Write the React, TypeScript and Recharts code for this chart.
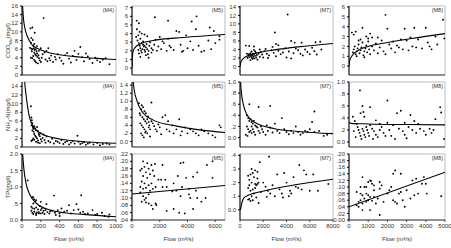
import React from 'react';
import { ComposedChart, Scatter, XAxis, YAxis, ReferenceArea } from 'recharts';

type P = [number, number];

// ---------- tick labels ----------
const flowTicksM4 = [0, 200, 400, 600, 800, 1000];
const flowTicksM5 = [0, 2000, 4000, 6000];
const flowTicksM7 = [0, 2000, 4000, 6000, 8000];
const flowTicksM8 = [0, 1000, 2000, 3000, 4000, 5000];

const codTicksM4 = [0, 2, 4, 6, 8, 10, 12, 14, 16];
const codTicksM5 = [0, 1, 2, 3, 4, 5, 6, 7];
const codTicksM7 = [0, 2, 4, 6, 8, 10, 12, 14];
const codTicksM8 = [0, 1, 2, 3, 4, 5, 6];
const nhTicksM4 = [0, 2, 4, 6, 8, 10, 12, 14];
const nhTicksM5 = [0, 0.2, 0.4, 0.6, 0.8, 1.0, 1.2, 1.4];
const nhTicksM7 = [0, 0.2, 0.4, 0.6, 0.8, 1.0];
const nhTicksM8 = [0, 0.2, 0.4, 0.6, 0.8, 1.0];
const tpTicksM4 = [0, 0.5, 1.0, 1.5, 2.0];
const tpTicksM5 = [0.04, 0.06, 0.08, 0.1, 0.12, 0.14, 0.16, 0.18, 0.2, 0.22];
const tpTicksM7 = [0, 0.1, 0.2, 0.3, 0.4];
const tpTicksM8 = [0, 0.02, 0.04, 0.06, 0.08, 0.1, 0.12, 0.14, 0.16, 0.18, 0.2];

// ---------- COD ----------
const codM4Pts: P[] = [[90,10.8],[110,11],[135,9.8],[230,13.2],[100,8.6],[115,8.1],[95,7.5],[120,6.8],[85,6.3],[100,6.1],[110,6.0],[125,6.2],[135,5.8],[145,6.0],[155,5.5],[160,5.0],[105,5.5],[130,5.2],[140,4.8],[150,4.5],[165,4.2],[175,4.6],[180,3.9],[120,4.4],[110,3.9],[95,4.0],[130,3.5],[140,3.2],[150,2.9],[170,2.7],[190,3.4],[200,3.0],[210,4.0],[220,4.8],[240,5.2],[260,5.6],[280,6.2],[250,3.6],[270,3.2],[290,3.9],[300,3.4],[310,4.5],[330,3.0],[350,4.2],[360,3.6],[380,4.8],[400,4.0],[420,3.3],[440,2.6],[460,4.6],[480,5.1],[500,3.8],[520,2.9],[540,4.4],[560,5.6],[580,3.5],[600,4.9],[620,6.5],[640,4.1],[660,3.2],[680,5.0],[700,4.3],[720,3.7],[750,2.8],[780,4.0],[800,3.4],[830,3.0],[860,3.6],[890,3.9],[930,2.5],[200,6.2],[180,5.6],[160,6.7],[130,7.2]];
const codM4Fit: P[] = [[6,16],[10,14.8],[15,13.2],[25,11.5],[40,10],[60,8.8],[100,7.2],[150,6.3],[200,5.8],[300,5.1],[400,4.7],[500,4.4],[600,4.2],[700,4.0],[800,3.85],[900,3.7],[1000,3.6]];

const codM5Pts: P[] = [[340,5.5],[500,5.2],[1650,5.9],[2600,5.5],[4650,6.0],[4300,5.4],[350,4.5],[550,4.2],[700,4.0],[450,3.8],[300,3.6],[900,3.9],[1100,3.7],[600,3.4],[400,3.2],[500,2.9],[550,2.6],[600,2.3],[650,2.0],[700,1.8],[750,2.2],[800,2.7],[850,2.5],[900,2.1],[950,1.9],[1000,2.4],[1050,2.8],[1100,2.2],[1150,1.6],[1200,2.0],[1250,2.6],[1300,3.0],[1400,2.3],[450,2.1],[500,1.7],[600,1.3],[700,2.9],[800,3.1],[900,2.6],[1000,1.5],[1500,2.1],[1600,2.7],[1700,3.3],[1800,2.0],[1900,2.5],[2000,3.6],[2100,2.2],[2300,2.9],[2500,2.0],[2600,3.4],[2800,2.4],[3000,2.1],[3200,4.3],[3400,4.2],[3500,2.7],[3700,2.0],[3900,3.8],[4000,2.3],[4200,3.1],[4400,2.1],[4600,4.5],[4800,2.6],[5000,1.9],[5200,2.0],[5500,3.2],[5600,4.7],[5900,4.3],[6300,3.7],[6300,3.3],[6000,2.9],[5700,2.2],[3600,1.9],[2700,2.6],[2200,3.1],[1400,1.8],[1200,1.2]];
const codM5Fit: P[] = [[3,0],[10,0.6],[20,1.0],[40,1.5],[95,2.0],[200,2.35],[580,2.8],[1500,3.2],[3700,3.55],[6700,3.9]];

const codM7Pts: P[] = [[4100,12.2],[3000,8.0],[500,4.9],[800,4.8],[1200,4.7],[3100,5.3],[3300,5.0],[4400,6.0],[4700,5.6],[5300,5.6],[6500,5.7],[6900,5.8],[600,3.0],[700,2.5],[750,2.9],[800,2.2],[850,2.7],[900,3.1],[950,2.4],[1000,2.0],[1050,2.6],[1100,3.0],[1150,2.3],[1200,2.8],[1250,1.9],[1300,2.5],[1350,3.3],[1400,2.1],[1450,2.7],[1500,1.6],[650,2.0],[900,1.5],[1000,3.5],[1100,1.8],[1300,3.6],[1600,3.0],[1700,2.3],[1800,3.4],[1900,2.8],[2000,2.1],[2100,3.6],[2300,3.0],[2500,2.6],[2700,3.8],[2900,3.2],[3100,2.4],[3300,3.7],[3500,2.9],[3700,3.3],[3900,4.3],[4000,2.1],[4200,3.5],[4400,1.9],[4600,3.1],[4800,4.2],[5000,3.8],[5200,3.0],[5400,2.6],[5600,4.0],[5800,3.4],[6000,2.9],[6200,4.4],[6400,3.6],[7000,4.0],[6600,2.8],[2200,4.1],[1700,4.0],[1200,3.9],[2400,2.0],[2800,4.6]];
const codM7Fit: P[] = [[10,0],[50,0.8],[150,1.4],[300,1.9],[860,2.7],[1500,3.2],[3000,3.9],[5000,4.6],[8000,5.4]];

const codM8Pts: P[] = [[1900,5.2],[4900,4.7],[4970,2.8],[150,3.4],[250,3.2],[350,3.5],[700,3.9],[1100,3.3],[2000,3.8],[2900,3.8],[3400,3.9],[4000,3.9],[3200,2.9],[2700,2.7],[200,1.4],[250,1.7],[300,2.0],[350,1.2],[400,1.5],[450,1.8],[500,2.2],[550,1.3],[600,1.6],[650,1.9],[700,2.4],[750,1.1],[800,1.5],[850,1.8],[900,2.1],[950,1.4],[1000,2.5],[1050,1.7],[1100,1.2],[1200,2.0],[1300,1.6],[1400,2.3],[1500,1.3],[1600,1.9],[1700,2.6],[1800,1.5],[1900,1.2],[2100,2.2],[2200,1.8],[2300,2.5],[2400,1.4],[2500,2.1],[2600,1.9],[2800,1.7],[3000,2.6],[3100,1.6],[3300,2.0],[3500,1.9],[3600,2.7],[3800,1.8],[4100,2.4],[4200,2.0],[4300,1.7],[4500,3.0],[4600,2.2],[1000,2.8],[1200,2.9],[500,2.6],[600,2.7],[900,3.0],[1500,2.9],[400,1.0],[800,0.9]];
const codM8Fit: P[] = [[5,0],[30,0.5],[140,1.0],[485,1.6],[1000,2.0],[1875,2.35],[3265,2.8],[5000,3.3]];

// ---------- NH3-N ----------
const nhM4Pts: P[] = [[95,9.4],[100,6.8],[105,6.2],[110,5.5],[100,5.0],[115,4.6],[120,4.2],[110,3.8],[125,3.5],[130,4.8],[140,4.3],[150,3.9],[160,4.6],[170,3.7],[180,3.0],[130,3.0],[140,2.6],[150,2.3],[120,2.0],[110,1.6],[100,1.4],[130,1.7],[160,2.0],[170,1.5],[190,2.5],[200,1.8],[210,1.3],[220,2.1],[240,1.6],[250,1.0],[260,2.4],[280,1.4],[300,1.1],[320,1.9],[340,0.8],[360,1.4],[380,1.2],[400,0.9],[420,1.6],[440,0.7],[460,1.1],[480,1.3],[500,0.6],[520,1.0],[540,1.4],[560,0.8],[590,2.6],[600,1.2],[620,0.7],[640,0.9],[660,1.1],[680,0.5],[700,0.8],[720,1.0],[760,0.6],[800,0.9],[830,0.4],[860,0.7],[900,0.8],[930,0.6],[170,1.0],[180,2.8],[200,3.2],[230,2.9],[150,1.2],[190,0.9]];
const nhM4Fit: P[] = [[28,15],[35,13.5],[50,10.8],[78,7.0],[120,4.7],[227,2.8],[475,1.6],[700,1.15],[1000,0.85]];

const nhM5Pts: P[] = [[500,0.95],[1400,0.97],[700,0.9],[800,0.85],[650,0.8],[900,0.75],[1000,0.7],[550,0.7],[600,0.65],[750,0.6],[850,0.55],[950,0.5],[1050,0.45],[1150,0.62],[1250,0.4],[600,0.45],[700,0.4],[800,0.35],[900,0.3],[1000,0.25],[1100,0.2],[1200,0.35],[1300,0.3],[1400,0.5],[1500,0.45],[1600,0.38],[1700,0.3],[1800,0.25],[1900,0.42],[2000,0.35],[650,0.2],[750,0.15],[850,0.1],[950,0.22],[1300,0.12],[2200,0.6],[2400,0.65],[2500,0.3],[2700,0.25],[2900,0.4],[3000,0.2],[3200,0.3],[3400,0.55],[3600,0.25],[3800,0.35],[4000,0.2],[4200,0.3],[4400,0.25],[4600,0.2],[4800,0.15],[5000,0.3],[5200,0.25],[5500,0.2],[5800,0.15],[6000,0.1],[6300,0.4],[6400,0.35],[2100,0.18],[2600,0.5],[3500,0.15],[1100,0.55],[1200,0.48]];
const nhM5Fit: P[] = [[90,1.48],[150,1.3],[338,1.03],[815,0.7],[1535,0.53],[3220,0.38],[5000,0.28],[6700,0.22]];

const nhM7Pts: P[] = [[800,0.6],[1600,0.55],[2600,0.57],[6400,0.47],[600,0.4],[700,0.35],[800,0.3],[900,0.33],[1000,0.28],[1100,0.25],[1200,0.3],[1300,0.22],[1400,0.2],[600,0.2],[700,0.15],[800,0.1],[900,0.12],[1000,0.08],[1100,0.15],[1200,0.1],[1300,0.05],[1500,0.18],[1600,0.12],[1700,0.08],[1800,0.2],[1900,0.15],[2000,0.1],[2200,0.05],[2400,0.12],[2600,0.18],[2800,0.09],[3000,0.25],[3200,0.12],[3400,0.08],[3600,0.35],[3800,0.15],[4000,0.1],[4200,0.06],[4400,0.12],[4600,0.08],[4800,0.2],[5000,0.1],[5200,0.05],[5400,0.08],[5600,0.12],[5800,0.1],[6000,0.15],[6200,0.28],[6400,0.1],[6800,0.12],[7200,0.03],[7500,0.05],[500,0.05],[650,0.03],[1000,0.2],[2300,0.22]];
const nhM7Fit: P[] = [[50,1.0],[100,0.85],[280,0.6],[570,0.42],[1280,0.27],[3000,0.16],[5000,0.11],[8000,0.07]];

const nhM8Pts: P[] = [[570,0.86],[2000,0.69],[4750,0.58],[4800,0.49],[4950,0.05],[700,0.6],[750,0.5],[600,0.48],[800,0.42],[1100,0.58],[1400,0.36],[2500,0.48],[2700,0.52],[3200,0.45],[3400,0.35],[3600,0.3],[4500,0.38],[200,0.42],[300,0.35],[400,0.3],[450,0.25],[500,0.2],[550,0.15],[600,0.1],[650,0.05],[700,0.22],[750,0.18],[800,0.12],[850,0.08],[900,0.25],[950,0.2],[1000,0.15],[1050,0.1],[1100,0.28],[1200,0.22],[1300,0.18],[1400,0.12],[1500,0.08],[1600,0.2],[1700,0.25],[1800,0.15],[1900,0.1],[2100,0.2],[2200,0.1],[2300,0.28],[2400,0.05],[2600,0.22],[2800,0.18],[2900,0.12],[3000,0.06],[3100,0.25],[3300,0.2],[3500,0.15],[3700,0.22],[3900,0.18],[4000,0.12],[4200,0.22],[4300,0.15],[4400,0.2],[350,0.08],[250,0.18],[1250,0.05],[1600,0.3],[2000,0.32],[2900,0.32]];
const nhM8Fit: P[] = [[5,0.33],[100,0.31],[1000,0.3],[3000,0.29],[5000,0.285]];

// ---------- TP ----------
const tpM4Pts: P[] = [[60,1.2],[340,0.74],[630,0.75],[110,0.7],[120,0.68],[130,0.62],[150,0.6],[140,0.55],[120,0.5],[100,0.4],[110,0.36],[130,0.34],[150,0.38],[170,0.32],[190,0.42],[200,0.3],[210,0.35],[230,0.28],[250,0.3],[100,0.28],[110,0.22],[120,0.18],[130,0.25],[150,0.2],[160,0.23],[180,0.24],[200,0.2],[220,0.22],[240,0.18],[270,0.24],[290,0.2],[300,0.26],[320,0.28],[350,0.22],[380,0.3],[400,0.2],[420,0.35],[450,0.25],[480,0.28],[500,0.45],[520,0.2],[550,0.3],[580,0.48],[600,0.32],[620,0.22],[650,0.25],[670,0.18],[700,0.2],[750,0.3],[780,0.15],[800,0.18],[850,0.22],[880,0.12],[920,0.1],[930,0.17],[200,0.55],[260,0.48],[150,0.15],[180,0.2],[360,0.15],[400,0.12]];
const tpM4Fit: P[] = [[7,2.0],[12,1.8],[21,1.52],[43,1.11],[85,0.76],[156,0.5],[300,0.3],[450,0.22],[652,0.17],[1000,0.1]];

const tpM5Pts: P[] = [[800,0.2],[1100,0.195],[1400,0.19],[1650,0.193],[2200,0.19],[3500,0.195],[3700,0.197],[5400,0.19],[5800,0.2],[700,0.18],[900,0.185],[1200,0.18],[1500,0.175],[600,0.175],[1000,0.17],[1300,0.165],[800,0.16],[1100,0.155],[1600,0.16],[1900,0.15],[2100,0.15],[2400,0.15],[3300,0.16],[3900,0.155],[4400,0.158],[4700,0.17],[5800,0.155],[700,0.145],[900,0.14],[1200,0.135],[1400,0.14],[1700,0.13],[600,0.13],[800,0.125],[1000,0.128],[1300,0.12],[1500,0.125],[2200,0.13],[2500,0.13],[3000,0.14],[3200,0.12],[3600,0.13],[4100,0.125],[4600,0.12],[600,0.115],[800,0.105],[1000,0.1],[1200,0.11],[900,0.095],[700,0.09],[1000,0.088],[1200,0.085],[1400,0.08],[1700,0.085],[1750,0.081],[1500,0.07],[2500,0.065],[3000,0.07],[3400,0.06],[3800,0.058],[4400,0.07],[4200,0.1],[4100,0.11],[4700,0.1],[5000,0.09],[3500,0.105],[2900,0.118],[5300,0.1]];
const tpM5Fit: P[] = [[0,0.111],[6700,0.134]];

const tpM7Pts: P[] = [[2500,0.39],[1700,0.35],[5100,0.33],[1000,0.3],[1300,0.29],[1500,0.28],[1100,0.27],[900,0.26],[700,0.25],[1200,0.24],[1500,0.23],[800,0.22],[1000,0.2],[1300,0.19],[1400,0.18],[1500,0.19],[1600,0.2],[800,0.18],[700,0.16],[1100,0.15],[900,0.14],[1200,0.12],[1000,0.1],[800,0.08],[1400,0.09],[1100,0.07],[900,0.065],[700,0.075],[1600,0.05],[2000,0.2],[2200,0.17],[2400,0.14],[2600,0.12],[2800,0.18],[3000,0.1],[3200,0.26],[3400,0.15],[3600,0.12],[3800,0.27],[4000,0.2],[4200,0.1],[4400,0.12],[4600,0.24],[4800,0.17],[5000,0.16],[5300,0.15],[5500,0.29],[5700,0.26],[6000,0.14],[6300,0.26],[6700,0.14],[7600,0.19],[1800,0.13],[2300,0.095],[3700,0.09],[4300,0.14],[1300,0.16]];
const tpM7Fit: P[] = [[40,0],[150,0.047],[300,0.084],[740,0.108],[1780,0.133],[4150,0.175],[6000,0.2],[8000,0.225]];

const tpM8Pts: P[] = [[2400,0.15],[2300,0.14],[2700,0.14],[700,0.13],[1100,0.12],[1150,0.118],[1000,0.115],[1200,0.11],[800,0.1],[600,0.1],[900,0.1],[1300,0.105],[1600,0.115],[1700,0.105],[400,0.085],[600,0.08],[700,0.075],[900,0.08],[1000,0.075],[1100,0.07],[1300,0.07],[1500,0.065],[800,0.065],[600,0.06],[500,0.055],[700,0.05],[900,0.055],[1000,0.06],[1200,0.058],[400,0.045],[500,0.04],[700,0.03],[1100,0.03],[1600,0.015],[1400,0.05],[1800,0.055],[2100,0.09],[2300,0.06],[2400,0.055],[2500,0.05],[2600,0.08],[2700,0.085],[2800,0.06],[2900,0.04],[3000,0.09],[3200,0.065],[3300,0.12],[3500,0.125],[3600,0.08],[3800,0.11],[3900,0.13],[4000,0.11],[4050,0.08],[4800,0.072],[3400,0.075],[2000,0.08],[1600,0.095],[1300,0.09],[2200,0.1]];
const tpM8Fit: P[] = [[0,0.04],[5000,0.145]];

// ---------- rendering ----------
const FONT = '"Liberation Sans", Arial, sans-serif';
const TXT = '#333';

const toObj = (a: P[]) => a.map(([x, y]) => ({ x, y }));

const fmt = (d: number) => (v: number) => {
  let s = Number(v).toFixed(d);
  if (v > 0 && v < 1) s = s.replace(/^0/, '');
  return s;
};

const Dot = (p: any) => <circle cx={p.cx} cy={p.cy} r={0.95} fill="#000" />;
const Empty = () => <g />;

const YTitle = (kind: string) => (props: any) => {
  const vb = props.viewBox || {};
  const cx = 8;
  const cy = vb.y + vb.height / 2;
  let content: any;
  if (kind === 'cod')
    content = (<>COD<tspan dy={1.6} fontSize={4.4}>Mn</tspan><tspan dy={-1.6}>(mg/l)</tspan></>);
  else if (kind === 'nh')
    content = (<>NH<tspan dy={1.6} fontSize={4.4}>3</tspan><tspan dy={-1.6}>-N(mg/l)</tspan></>);
  else content = <>TP(mg/l)</>;
  return (
    <text x={cx} y={cy} transform={`rotate(-90, ${cx}, ${cy})`} textAnchor="middle" dominantBaseline="central" fontSize={6} fill={TXT} fontFamily={FONT}>
      {content}
    </text>
  );
};

const colX = [
  { l: 22, r: 116, dom: [0, 1000], ticks: flowTicksM4, tag: '(M4)' },
  { l: 132, r: 225, dom: [0, 6700], ticks: flowTicksM5, tag: '(M5)' },
  { l: 240, r: 333, dom: [0, 8000], ticks: flowTicksM7, tag: '(M7)' },
  { l: 349, r: 445, dom: [0, 5000], ticks: flowTicksM8, tag: '(M8)' },
];
const rowY = [
  { t: 6, b: 75, title: 'cod' },
  { t: 82, b: 147, title: 'nh' },
  { t: 154, b: 220, title: 'tp' },
];

const panels = [
  { r: 0, c: 0, pts: codM4Pts, fit: codM4Fit, ydom: [0, 16], yt: codTicksM4, d: 0 },
  { r: 0, c: 1, pts: codM5Pts, fit: codM5Fit, ydom: [-0.8, 7.2], yt: codTicksM5, d: 0 },
  { r: 0, c: 2, pts: codM7Pts, fit: codM7Fit, ydom: [-2, 14.2], yt: codTicksM7, d: 0 },
  { r: 0, c: 3, pts: codM8Pts, fit: codM8Fit, ydom: [-0.9, 6.1], yt: codTicksM8, d: 0 },
  { r: 1, c: 0, pts: nhM4Pts, fit: nhM4Fit, ydom: [0, 15], yt: nhTicksM4, d: 0 },
  { r: 1, c: 1, pts: nhM5Pts, fit: nhM5Fit, ydom: [-0.14, 1.48], yt: nhTicksM5, d: 1 },
  { r: 1, c: 2, pts: nhM7Pts, fit: nhM7Fit, ydom: [-0.17, 1.0], yt: nhTicksM7, d: 1 },
  { r: 1, c: 3, pts: nhM8Pts, fit: nhM8Fit, ydom: [-0.085, 1.0], yt: nhTicksM8, d: 1 },
  { r: 2, c: 0, pts: tpM4Pts, fit: tpM4Fit, ydom: [0, 2], yt: tpTicksM4, d: 1 },
  { r: 2, c: 1, pts: tpM5Pts, fit: tpM5Fit, ydom: [0.04, 0.22], yt: tpTicksM5, d: 2 },
  { r: 2, c: 2, pts: tpM7Pts, fit: tpM7Fit, ydom: [-0.075, 0.41], yt: tpTicksM7, d: 1 },
  { r: 2, c: 3, pts: tpM8Pts, fit: tpM8Fit, ydom: [0, 0.2], yt: tpTicksM8, d: 2 },
];

const RM = 10; // right margin so last tick label is not clipped

function Panel({ p }: { p: any }) {
  const col = colX[p.c];
  const row = rowY[p.r];
  const bottom = p.r === 2;
  const yw = p.c === 0 ? 22 : 17;
  const w = col.r - col.l;
  const h = row.b - row.t;
  const xh = bottom ? 24 : 3;
  const W = yw + w + RM;
  const H = 5 + h + xh;
  return (
    <div style={{ position: 'absolute', left: col.l - yw, top: row.t - 5, width: W, height: H }}>
      <ComposedChart width={W} height={H} margin={{ top: 5, right: RM, bottom: 0, left: 0 }}>
        <ReferenceArea x1={col.dom[0]} x2={col.dom[1]} y1={p.ydom[0]} y2={p.ydom[1]} fill="none" stroke="#aaa" strokeWidth={0.8} ifOverflow="visible" />
        <XAxis
          type="number" dataKey="x" domain={col.dom} ticks={col.ticks} allowDataOverflow interval={0}
          height={xh} tickSize={2}
          tick={bottom ? { fontSize: 6, fill: TXT, fontFamily: FONT } : false}
          axisLine={{ stroke: '#444', strokeWidth: 1 }} tickLine={{ stroke: '#444' }}
          label={bottom ? { value: 'Flow (m³/s)', position: 'insideBottom', offset: 3, fontSize: 6, fill: TXT, fontFamily: FONT } : undefined}
        />
        <YAxis
          type="number" dataKey="y" domain={p.ydom} ticks={p.yt} allowDataOverflow interval={0}
          width={yw} tickSize={2} tickFormatter={fmt(p.d)}
          tick={{ fontSize: 6, fill: TXT, fontFamily: FONT }}
          axisLine={{ stroke: '#000', strokeWidth: 1 }} tickLine={{ stroke: '#000' }}
          label={p.c === 0 ? { content: YTitle(row.title) } : undefined}
        />
        <Scatter data={toObj(p.pts)} shape={Dot} isAnimationActive={false} />
        <Scatter data={toObj(p.fit)} shape={Empty} line={{ stroke: '#000', strokeWidth: 1.1 }} lineJointType="monotoneX" isAnimationActive={false} />
      </ComposedChart>
      <div style={{ position: 'absolute', right: RM + 2, top: 7, fontSize: 5.5, lineHeight: 1, color: TXT, fontFamily: FONT }}>
        {col.tag}
      </div>
    </div>
  );
}

export default function App() {
  return (
    <div style={{ position: 'absolute', left: 0, top: 0, width: 451, height: 248, background: '#fff', fontFamily: FONT }}>
      {panels.map((p, i) => (
        <Panel key={i} p={p} />
      ))}
    </div>
  );
}
